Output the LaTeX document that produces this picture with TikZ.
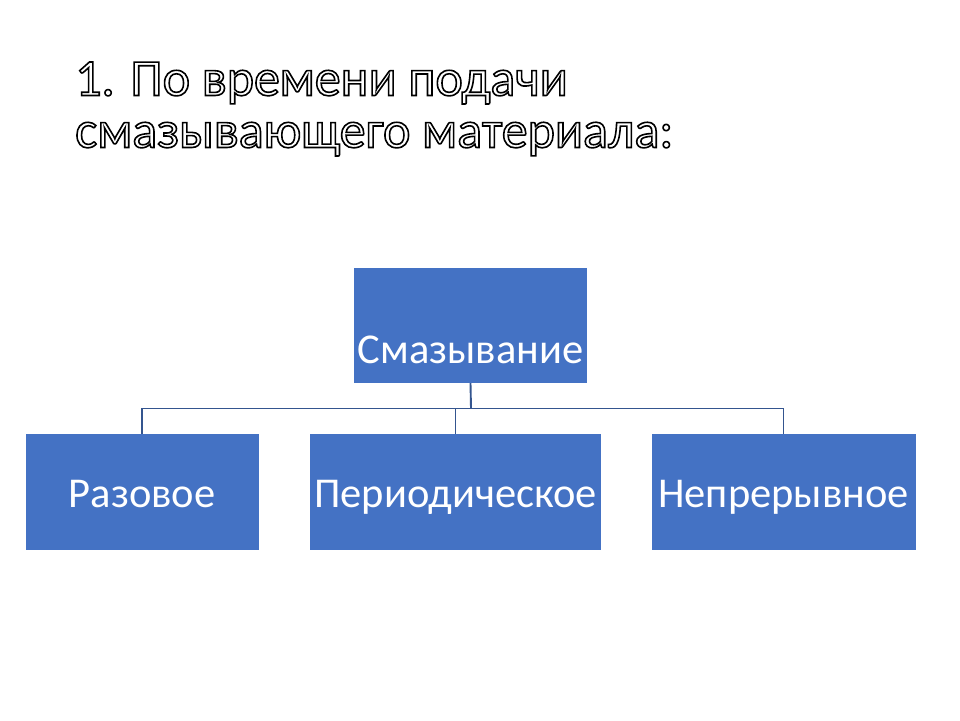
\documentclass[tikz,border=0pt]{standalone}
\usepackage{fontspec}
\setmainfont{Carlito}
\definecolor{boxblue}{HTML}{4472C4}
\definecolor{linkblue}{HTML}{34558F}
\newcommand\outlinetext[1]{\special{pdf:literal direct 2 Tr 1.6 w 0 G}#1\special{pdf:literal direct 0 Tr}}
\tikzset{
  box/.style={rectangle, fill=boxblue, draw=none, text=white, inner sep=0pt,
    minimum height=116pt, text height=30pt, text depth=0pt,
    font=\fontsize{42.5}{45}\selectfont},
  link/.style={draw=linkblue, line width=1.9pt},
  titletext/.style={anchor=base west, inner sep=0pt, text=white,
    font=\fontsize{52}{52}\selectfont}
}
\begin{document}
\begin{tikzpicture}[x=1pt, y=-1pt]
\useasboundingbox[fill=white] (0,0) rectangle (960,720);
\node[titletext] (t1) at (75,95.5) {\outlinetext{1. По времени подачи}};
\node[titletext] (t2) at (75,147.5) {\outlinetext{смазывающего материала:}};
\node[box, minimum width=233pt, minimum height=115pt, text height=75pt] (top) at (470.5,325.5) {Смазывание};
\node[box, minimum width=233pt] (b1) at (142,492) {Разовое};
\node[box, minimum width=291pt] (b2) at (455.5,492) {Периодическое};
\node[box, minimum width=264pt] (b3) at (783.5,492) {Непрерывное};
\coordinate (bus) at (471,408.5);
\draw[link] (top.south) -- (bus);
\draw[link] (b1.north) -- (b1.north |- bus) -- (b3.north |- bus) -- (b3.north);
\draw[link] (b2.north) -- (b2.north |- bus);
\end{tikzpicture}
\end{document}
